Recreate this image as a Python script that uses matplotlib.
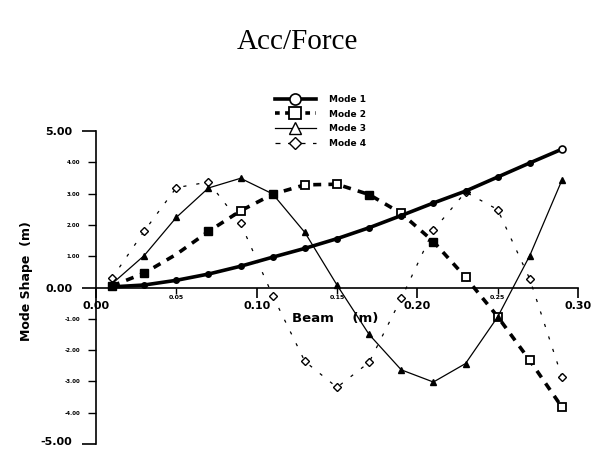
import matplotlib
matplotlib.use('Agg')
import matplotlib.pyplot as plt
from matplotlib.lines import Line2D
from matplotlib.ticker import FuncFormatter
from matplotlib.transforms import ScaledTranslation

plt.rcParams['font.family'] = ['DejaVu Sans']
plt.rcParams['font.weight'] = 'bold'
plt.rcParams['axes.unicode_minus'] = False

# beam positions (m)
beam_x = [0.01, 0.03, 0.05, 0.07, 0.09, 0.11, 0.13, 0.15,
          0.17, 0.19, 0.21, 0.23, 0.25, 0.27, 0.29]

# mode shapes
mode1 = [0.02, 0.08, 0.23, 0.43, 0.68, 0.97, 1.25, 1.56,
         1.91, 2.30, 2.70, 3.08, 3.53, 3.98, 4.42]
mode2 = [0.05, 0.46, 1.06, 1.79, 2.45, 2.98, 3.28, 3.30,
         2.97, 2.37, 1.47, 0.33, -0.93, -2.33, -3.82]
mode3 = [0.12, 1.02, 2.24, 3.18, 3.49, 2.99, 1.76, 0.08,
         -1.50, -2.63, -3.02, -2.43, -0.94, 1.02, 3.43]
mode4 = [0.30, 1.80, 3.19, 3.37, 2.05, -0.26, -2.36, -3.19,
         -2.39, -0.35, 1.83, 3.05, 2.49, 0.27, -2.86]

labels = ['Mode 1', 'Mode 2', 'Mode 3', 'Mode 4']

x_major = [0.0, 0.10, 0.20, 0.30]
x_minor = [0.05, 0.15, 0.25]
y_major = [-5.0, 0.0, 5.0]
y_minor = [-4.0, -3.0, -2.0, -1.0, 1.0, 2.0, 3.0, 4.0]

fig = plt.figure(figsize=(5.95, 4.49), dpi=100)
ax = fig.add_axes([0.1613, 0.0111, 0.8101, 0.6971])

# mode 1 - thick solid, circles
ax.plot(beam_x, mode1, color='black', lw=2.6, zorder=5)
ax.plot(beam_x, mode1, ls='none', marker='o', ms=4, color='black',
        markevery=list(range(14)), zorder=6)
ax.plot(beam_x, mode1, ls='none', marker='o', ms=5, mfc='white', mec='black',
        mew=1.2, markevery=[14], zorder=6)

# mode 2 - thick dashed, squares
ax.plot(beam_x, mode2, color='black', lw=2.6, dashes=(2.2, 2.0), zorder=3)
ax.plot(beam_x, mode2, ls='none', marker='s', ms=6, mfc='white', mec='black',
        mew=1.3, markevery=[4, 6, 7, 9, 11, 12, 13, 14], zorder=4)
ax.plot(beam_x, mode2, ls='none', marker='s', ms=5.5, color='black',
        markevery=[0, 1, 3, 5, 8, 10], zorder=4)

# mode 3 - thin solid, triangles
ax.plot(beam_x, mode3, color='black', lw=0.9, marker='^', ms=5,
        mfc='black', zorder=4)

# mode 4 - thin dotted, diamonds
ax.plot(beam_x, mode4, color='black', lw=0.9, dashes=(2.5, 8),
        marker='D', ms=4, mfc='white', mec='black', mew=1.0, zorder=2)

ax.set_xlim(0, 0.30)
ax.set_ylim(-5, 5)
ax.spines['top'].set_visible(False)
ax.spines['right'].set_visible(False)
ax.spines['bottom'].set_position(('data', 0))
ax.spines['left'].set_linewidth(1.2)
ax.spines['bottom'].set_linewidth(1.2)

fmt = FuncFormatter(lambda v, p: '%.2f' % v)
ax.set_xticks(x_major)
ax.set_xticks(x_minor, minor=True)
ax.set_yticks(y_major)
ax.set_yticks(y_minor, minor=True)
for axis in (ax.xaxis, ax.yaxis):
    axis.set_major_formatter(fmt)
    axis.set_minor_formatter(fmt)

ax.tick_params(axis='x', which='major', direction='out', length=7, width=1.2,
               pad=3, labelsize=8)
ax.tick_params(axis='x', which='minor', direction='out', length=4, width=1.0,
               pad=1.5, labelsize=4.5)
ax.tick_params(axis='y', which='major', direction='out', length=10, width=1.2,
               pad=7, labelsize=8)
ax.tick_params(axis='y', which='minor', direction='out', length=5.5, width=1.0,
               pad=6, labelsize=4)

# nudge the bottom label up a little so it stays inside the figure
low_tick = ax.yaxis.get_major_ticks()[0]
low_tick.label1.set_transform(low_tick.label1.get_transform() +
                              ScaledTranslation(0, 2 / 72, fig.dpi_scale_trans))

ax.set_ylabel('Mode Shape  (m)', fontsize=9, fontweight='bold')
ax.yaxis.set_label_coords(-0.131, 0.52)
ax.text(0.496, 0.40, 'Beam    (m)', transform=ax.transAxes, fontsize=9.5,
        fontweight='bold', ha='center', va='center')

fig.text(0.5, 1 - 42 / 449, 'Acc/Force', family='Liberation Serif',
         fontweight='normal', fontsize=21, ha='center', va='center')

handles = [
    Line2D([], [], color='black', lw=2.6, marker='o', ms=8, mfc='white', mew=1.2),
    Line2D([], [], color='black', lw=2.6, dashes=(1.3, 1.5), marker='s', ms=8,
           mfc='white', mew=1.3),
    Line2D([], [], color='black', lw=0.9, marker='^', ms=8, mfc='white', mew=1.0),
    Line2D([], [], color='black', lw=0.9, dashes=(4, 6), marker='D', ms=6.5,
           mfc='white', mew=1.0),
]
fig.legend(handles, labels, loc='upper left', bbox_to_anchor=(275 / 595, 1 - 95 / 449),
           frameon=False, fontsize=6.5, handlelength=4.5, handletextpad=1.5,
           labelspacing=0.62, borderpad=0, borderaxespad=0)

fig.savefig('out.png', dpi=100)
